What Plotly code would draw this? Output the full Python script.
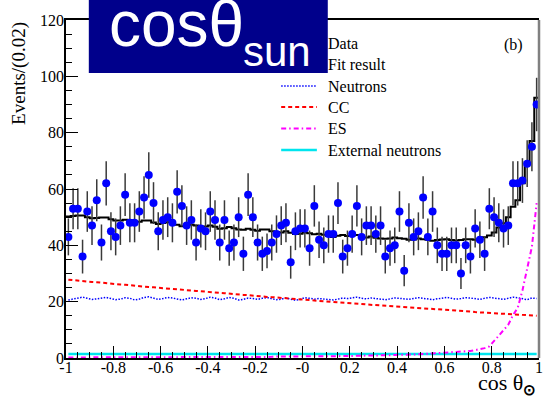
import numpy as np
import plotly.graph_objects as go

# cos(theta_sun) histogram: 100 bins of width 0.02 on [-1, 1]
bin_edges = np.linspace(-1.0, 1.0, 101)
bin_centers = 0.5 * (bin_edges[:-1] + bin_edges[1:])

data_counts = [
    43, 53, 53, 36, 52, 47, 56, 41, 62, 45,
    43, 47, 58, 48, 48, 52, 57, 65, 55, 45,
    49, 50, 48, 59, 54, 47, 49, 41, 46, 45,
    52, 49, 41, 49, 39, 41, 50, 37, 58, 50,
    41, 37, 38, 41, 44, 47, 48, 34, 45, 46,
    46, 39, 54, 42, 40, 44, 44, 55, 36, 39,
    44, 54, 43, 47, 47, 44, 47, 36, 39, 40,
    52, 31, 48, 43, 45, 57, 43, 52, 40, 37,
    37, 40, 40, 30, 40, 36, 46, 42, 37, 53,
    50, 48, 46, 47, 62, 62, 63, 69, 75, 90,
]

fit_result = [
    50.2, 50.4, 50.6, 50.6, 50.0, 49.6, 49.7, 49.9, 49.9, 49.3,
    48.8, 48.8, 49.1, 48.8, 48.1, 48.4, 48.8, 48.8, 48.1, 47.6,
    47.9, 48.2, 47.9, 47.3, 46.8, 47.1, 47.3, 47.0, 46.5, 46.7,
    47.0, 46.6, 45.9, 46.1, 46.5, 46.1, 45.6, 45.5, 45.9, 45.5,
    45.2, 45.6, 45.6, 45.0, 44.7, 44.6, 45.0, 44.5, 44.0, 44.1,
    44.6, 44.3, 43.9, 44.1, 43.8, 43.3, 43.0, 43.4, 43.7, 43.3,
    43.5, 43.7, 43.3, 42.8, 43.1, 42.7, 42.4, 42.3, 42.4, 42.8,
    42.5, 42.3, 42.0, 42.1, 42.4, 42.2, 42.0, 41.6, 41.9, 42.1,
    42.2, 41.9, 41.7, 41.9, 42.2, 42.2, 42.0, 42.2, 42.9, 43.5,
    44.6, 46.3, 47.8, 50.0, 53.7, 56.0, 62.0, 69.6, 77.0, 92.4,
]

neutrons = [
    20.6, 20.9, 21.4, 21.6, 21.2, 20.8, 21.0, 21.3, 21.5, 21.1,
    20.7, 20.9, 21.4, 21.2, 20.6, 20.9, 21.5, 21.7, 21.2, 20.8,
    21.1, 21.5, 21.3, 20.9, 20.6, 21.0, 21.4, 21.2, 20.8, 21.1,
    21.6, 21.3, 20.7, 21.0, 21.5, 21.2, 20.6, 20.8, 21.3, 21.1,
    20.8, 21.2, 21.5, 21.0, 20.7, 20.9, 21.3, 20.9, 20.5, 20.8,
    21.4, 21.2, 20.9, 21.1, 21.0, 20.7, 20.6, 20.9, 21.3, 21.1,
    21.4, 21.6, 21.2, 21.0, 21.3, 21.1, 20.8, 20.7, 21.0, 21.3,
    21.2, 21.0, 20.8, 21.1, 21.4, 21.2, 20.9, 20.7, 21.0, 21.3,
    21.5, 21.2, 20.9, 21.1, 21.4, 21.3, 21.0, 20.8, 21.2, 21.5,
    21.3, 21.0, 20.8, 21.2, 21.6, 21.4, 21.0, 20.7, 21.3, 21.1,
]

cc = [
    27.8, 27.6, 27.5, 27.3, 27.2, 27.0, 26.9, 26.7, 26.6, 26.4,
    26.3, 26.1, 26.0, 25.8, 25.7, 25.5, 25.4, 25.2, 25.1, 24.9,
    24.8, 24.7, 24.5, 24.4, 24.2, 24.1, 24.0, 23.8, 23.7, 23.5,
    23.4, 23.3, 23.1, 23.0, 22.8, 22.7, 22.6, 22.4, 22.3, 22.1,
    22.0, 21.9, 21.7, 21.6, 21.5, 21.3, 21.2, 21.1, 20.9, 20.8,
    20.7, 20.6, 20.4, 20.3, 20.2, 20.0, 19.9, 19.8, 19.7, 19.5,
    19.4, 19.3, 19.2, 19.0, 18.9, 18.8, 18.7, 18.6, 18.4, 18.3,
    18.2, 18.1, 18.0, 17.8, 17.7, 17.6, 17.5, 17.4, 17.3, 17.1,
    17.0, 16.9, 16.8, 16.7, 16.6, 16.5, 16.3, 16.2, 16.1, 16.0,
    15.9, 15.8, 15.7, 15.6, 15.5, 15.4, 15.3, 15.2, 15.1, 15.0,
]

es = [
    0.2, 0.2, 0.2, 0.2, 0.2, 0.2, 0.2, 0.2, 0.2, 0.2,
    0.2, 0.2, 0.2, 0.2, 0.2, 0.3, 0.3, 0.3, 0.3, 0.3,
    0.3, 0.3, 0.3, 0.3, 0.3, 0.3, 0.3, 0.3, 0.3, 0.3,
    0.3, 0.3, 0.3, 0.4, 0.4, 0.4, 0.4, 0.4, 0.4, 0.4,
    0.4, 0.4, 0.4, 0.4, 0.5, 0.5, 0.5, 0.5, 0.5, 0.5,
    0.5, 0.5, 0.6, 0.6, 0.6, 0.6, 0.6, 0.7, 0.7, 0.7,
    0.7, 0.8, 0.8, 0.8, 0.9, 0.9, 0.9, 1.0, 1.0, 1.1,
    1.1, 1.2, 1.2, 1.3, 1.3, 1.4, 1.5, 1.5, 1.6, 1.7,
    1.8, 1.9, 2.0, 2.2, 2.3, 2.5, 2.8, 3.1, 3.5, 4.1,
    6.0, 8.0, 10.0, 11.8, 15.2, 17.8, 24.0, 32.0, 39.5, 55.0,
]

external_neutrons = [
    1.4, 1.5, 1.4, 1.4, 1.3, 1.4, 1.4, 1.5, 1.4, 1.4,
    1.4, 1.4, 1.3, 1.4, 1.4, 1.5, 1.4, 1.4, 1.3, 1.4,
    1.4, 1.4, 1.5, 1.4, 1.4, 1.4, 1.3, 1.4, 1.4, 1.5,
    1.4, 1.4, 1.4, 1.3, 1.4, 1.4, 1.5, 1.4, 1.4, 1.4,
    1.4, 1.5, 1.4, 1.4, 1.4, 1.3, 1.4, 1.4, 1.5, 1.4,
    1.4, 1.4, 1.4, 1.5, 1.4, 1.4, 1.3, 1.4, 1.4, 1.4,
    1.4, 1.4, 1.5, 1.4, 1.4, 1.3, 1.4, 1.4, 1.4, 1.5,
    1.4, 1.4, 1.4, 1.3, 1.4, 1.4, 1.5, 1.4, 1.4, 1.4,
    1.4, 1.4, 1.5, 1.4, 1.4, 1.4, 1.3, 1.4, 1.4, 1.4,
    1.4, 1.4, 1.4, 1.5, 1.4, 1.4, 1.4, 1.3, 1.4, 1.4,
]

x_tick_vals = [-1, -0.8, -0.6, -0.4, -0.2, 0, 0.2, 0.4, 0.6, 0.8, 1]
x_tick_text = ["-1", "-0.8", "-0.6", "-0.4", "-0.2", "-0", "0.2", "0.4", "0.6", "0.8", "1"]
y_tick_vals = [0, 20, 40, 60, 80, 100, 120]

legend_labels = ["Data", "Fit result", "Neutrons", "CC", "ES", "External neutrons"]

# figure geometry in pixels
W, H = 553, 396
ML, MR, MT, MB = 66, 10, 20, 38
PW, PH = W - ML - MR, H - MT - MB


def px(xp):
    return (xp - ML) / PW


def py(yp):
    return (H - MB - yp) / PH


SERIF = "Liberation Serif, Times New Roman, serif"
SANS = "Liberation Sans, Arial, sans-serif"

STYLE_NEUTRONS = dict(color="#0000ff", width=1.5, dash="1.5px,1.5px")
STYLE_CC = dict(color="#ff0000", width=2, dash="4px,3px")
STYLE_ES = dict(color="#ff00ff", width=2, dash="5px,3px,1.5px,3px")
STYLE_EXT = dict(color="#00e5ee", width=2.5)

fig = go.Figure()

fig.add_trace(go.Scatter(x=bin_centers, y=external_neutrons, mode="lines",
                         line=STYLE_EXT, name="External neutrons"))
fig.add_trace(go.Scatter(x=bin_centers, y=neutrons, mode="lines",
                         line=STYLE_NEUTRONS, name="Neutrons"))
fig.add_trace(go.Scatter(x=bin_centers, y=cc, mode="lines",
                         line=STYLE_CC, name="CC"))
fig.add_trace(go.Scatter(x=bin_centers, y=es, mode="lines",
                         line=STYLE_ES, name="ES"))
fig.add_trace(go.Scatter(x=bin_edges, y=fit_result + [fit_result[-1]], mode="lines",
                         line=dict(color="black", width=2, shape="hv"), name="Fit result"))
fig.add_trace(go.Scatter(
    x=bin_centers, y=data_counts, mode="markers", name="Data",
    marker=dict(color="#0000ff", size=8),
    error_y=dict(type="data", array=np.sqrt(data_counts), color="#3a3a3a",
                 thickness=1.5, width=0),
))

shapes = []
annotations = []

# right frame edge
shapes.append(dict(type="line", xref="paper", yref="paper", x0=1, x1=1, y0=0, y1=1,
                   line=dict(color="#808080", width=2.5), layer="above"))

# legend: samples + labels
leg_rows = [43, 64, 86, 107, 128.5, 150]
sx0, sx1, tx = 283, 319, 328
shapes.append(dict(type="circle", xref="paper", yref="paper",
                   x0=px(301 - 3.5), x1=px(301 + 3.5), y0=py(leg_rows[0] + 3.5), y1=py(leg_rows[0] - 3.5),
                   fillcolor="#0000ff", line=dict(width=0)))
for row, style in zip(leg_rows[1:], [dict(color="black", width=2), STYLE_NEUTRONS, STYLE_CC, STYLE_ES, STYLE_EXT]):
    shapes.append(dict(type="line", xref="paper", yref="paper",
                       x0=px(sx0), x1=px(sx1), y0=py(row), y1=py(row), line=style))
for row, label in zip(leg_rows, legend_labels):
    annotations.append(dict(text=label, xref="paper", yref="paper", x=px(tx), y=py(row),
                            xanchor="left", yanchor="middle", showarrow=False,
                            font=dict(family=SERIF, size=16, color="black")))

# title box
shapes.append(dict(type="rect", xref="paper", yref="paper",
                   x0=px(89), x1=px(330), y0=py(73), y1=py(-2),
                   fillcolor="#00008b", line=dict(width=0), layer="above"))
annotations.append(dict(text="cosθ", xref="paper", yref="paper", x=px(107), y=py(62),
                        xanchor="left", yanchor="bottom", showarrow=False,
                        font=dict(family=SANS, size=64, color="white")))
annotations.append(dict(text="sun", xref="paper", yref="paper", x=px(242), y=py(77),
                        xanchor="left", yanchor="bottom", showarrow=False,
                        font=dict(family=SANS, size=42, color="white")))

annotations.append(dict(text="(b)", xref="paper", yref="paper", x=px(517), y=py(45),
                        xanchor="center", yanchor="middle", showarrow=False,
                        font=dict(family=SERIF, size=16, color="black")))

# axis titles
annotations.append(dict(text="Events/(0.02)", xref="paper", yref="paper", x=px(18), y=1,
                        xanchor="center", yanchor="top", textangle=-90, showarrow=False,
                        font=dict(family=SERIF, size=19, color="black")))
annotations.append(dict(text="cos θ<sub><b>⊙</b></sub>", xref="paper", yref="paper", x=px(542), y=py(400),
                        xanchor="right", yanchor="bottom", showarrow=False,
                        font=dict(family=SERIF, size=22, color="black")))

fig.update_layout(
    width=W, height=H,
    margin=dict(l=ML, r=MR, t=MT, b=MB),
    paper_bgcolor="white", plot_bgcolor="white",
    showlegend=False,
    shapes=shapes, annotations=annotations,
    xaxis=dict(range=[-1, 1], tickvals=x_tick_vals, ticktext=x_tick_text,
               ticks="inside", ticklen=12, tickwidth=1, tickcolor="black",
               ticklabelstandoff=-6,
               minor=dict(dtick=0.05, tick0=-1, ticks="inside", ticklen=6, tickcolor="black"),
               showline=True, linecolor="black", linewidth=1.5, mirror=True,
               showgrid=False, zeroline=False,
               tickfont=dict(family=SERIF, size=16, color="black")),
    yaxis=dict(range=[0, 120], tickvals=y_tick_vals,
               ticks="inside", ticklen=12, tickwidth=1, tickcolor="black",
               ticklabelstandoff=-3,
               minor=dict(dtick=5, tick0=0, ticks="inside", ticklen=6, tickcolor="black"),
               showline=True, linecolor="black", linewidth=1.5,
               showgrid=False, zeroline=False,
               tickfont=dict(family=SERIF, size=16, color="black")),
)

fig.write_html("out.html")
